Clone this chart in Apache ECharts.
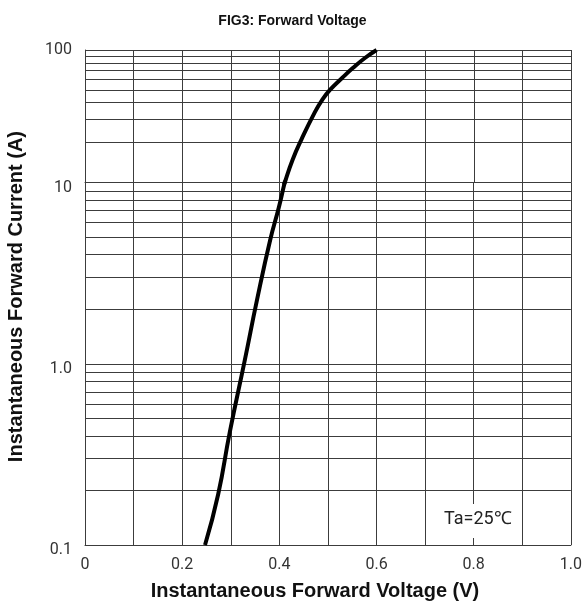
<!DOCTYPE html>
<html>
<head>
<meta charset="utf-8">
<script src="https://cdn.jsdelivr.net/npm/echarts@6/dist/echarts.min.js"></script>
<style>
  html, body { margin: 0; padding: 0; background: #fff; }
  #chart { width: 585px; height: 606px; }
</style>
</head>
<body>
<div id="chart"></div>
<script>
// ---- data ----
const chartTitle = 'FIG3: Forward Voltage';
const xAxisName = 'Instantaneous Forward Voltage (V)';
const yAxisName = 'Instantaneous Forward Current (A)';
const noteText = 'Ta=25\u2103';

// forward voltage (V) and instantaneous forward current (A) along the curve
const voltage = [0.247, 0.274, 0.298, 0.329, 0.354, 0.381, 0.399, 0.411, 0.427, 0.445, 0.473, 0.488, 0.504, 0.529, 0.551, 0.576, 0.600];
const current = [0.10, 0.19, 0.42, 1.05, 2.25, 4.8, 7.3, 10, 14.8, 21, 34, 42, 50, 61.5, 73, 87, 100];

const xTickValues = [0, 0.2, 0.4, 0.6, 0.8, 1.0];
const xTickLabels = ['0', '0.2', '0.4', '0.6', '0.8', '1.0'];
const yTickValues = [0.1, 1, 10, 100];
const yTickLabels = ['0.1', '1.0', '10', '100'];

// ---- build ----
const pts = voltage.map((v, i) => [v, current[i]]);
// each decade panel gets its own points plus one neighbour beyond the seam (clipped by the grid)
const seam = current.indexOf(10);
const upperPts = pts.slice(seam - 1);
const lowerPts = pts.slice(0, seam + 2);

function xLabel(v) {
  const i = xTickValues.findIndex(t => Math.abs(t - v) < 1e-6);
  return i >= 0 ? xTickLabels[i] : '';
}
function yLabel(v) {
  const i = yTickValues.findIndex(t => Math.abs(t - v) / t < 1e-6);
  return i >= 0 ? yTickLabels[i] : '';
}

const gridColor = '#3c3c3c';
const tickFont = { fontFamily: 'Roboto, "Liberation Sans", sans-serif', fontSize: 16, color: '#333' };
const nameFont = { fontFamily: '"Liberation Sans", Arial, sans-serif', fontWeight: 'bold', fontSize: 20, color: '#111' };

const chart = echarts.init(document.getElementById('chart'), null, { renderer: 'canvas' });
const L = 85, W = 486, T = 50, H1 = 132.5, H2 = 362.5;

const xBase = {
  type: 'value', min: 0, max: 1, interval: 0.1,
  axisLine: { show: true, lineStyle: { color: gridColor, width: 1 } },
  axisTick: { show: false },
  splitLine: { show: true, lineStyle: { color: gridColor, width: 1 } }
};
const yBase = {
  type: 'log', logBase: 10,
  axisLine: { show: true, lineStyle: { color: gridColor, width: 1 } },
  axisTick: { show: false },
  splitLine: { show: true, lineStyle: { color: gridColor, width: 1 } },
  minorTick: { show: false, splitNumber: 9 },
  minorSplitLine: { show: true, lineStyle: { color: gridColor, width: 1 } }
};

chart.setOption({
  animation: false,
  backgroundColor: '#fff',
  title: {
    text: chartTitle, left: 'center', top: 9,
    textStyle: { fontFamily: '"Liberation Sans", Arial, sans-serif', fontWeight: 'bold', fontSize: 14, color: '#111' }
  },
  grid: [
    { left: L, top: T, width: W, height: H1, show: false },
    { left: L, top: T + H1, width: W, height: H2, show: false }
  ],
  xAxis: [
    Object.assign({}, xBase, { gridIndex: 0, position: 'bottom', axisLabel: { show: false } }),
    Object.assign({}, xBase, {
      gridIndex: 1, position: 'bottom',
      name: xAxisName, nameLocation: 'middle', nameGap: 36,
      nameTextStyle: Object.assign({ padding: [0, 26, 0, 0] }, nameFont),
      axisLabel: Object.assign({ show: true, margin: 12, formatter: xLabel, showMinLabel: true, showMaxLabel: true }, tickFont)
    })
  ],
  yAxis: [
    Object.assign({}, yBase, {
      gridIndex: 0, min: 10, max: 100,
      axisLabel: Object.assign({ margin: 13, formatter: yLabel, showMinLabel: false, showMaxLabel: true }, tickFont)
    }),
    Object.assign({}, yBase, {
      gridIndex: 1, min: 0.1, max: 10,
      axisLabel: Object.assign({ margin: 13, formatter: yLabel, showMinLabel: true, showMaxLabel: true,
        verticalAlign: 'top', lineHeight: 10 }, tickFont)
    })
  ],
  graphic: [
    {
      type: 'text', left: 6, top: 131,
      rotation: Math.PI / 2,
      style: { text: yAxisName, fill: '#111', font: 'bold 20px "Liberation Sans", Arial, sans-serif' }
    },
    {
      type: 'text', z: 100, x: 441, y: 504,
      style: {
        text: noteText, fill: '#222',
        font: '18px Roboto, "Liberation Sans", sans-serif',
        backgroundColor: '#fff', padding: [6, 3, 10, 3]
      }
    }
  ],
  series: [
    {
      type: 'line', xAxisIndex: 0, yAxisIndex: 0, data: upperPts, clip: true,
      smooth: 0.5, showSymbol: false, lineStyle: { color: '#000', width: 4 }, z: 10
    },
    {
      type: 'line', xAxisIndex: 1, yAxisIndex: 1, data: lowerPts, clip: true,
      smooth: 0.5, showSymbol: false, lineStyle: { color: '#000', width: 4 }, z: 10
    }
  ]
});
</script>
</body>
</html>
